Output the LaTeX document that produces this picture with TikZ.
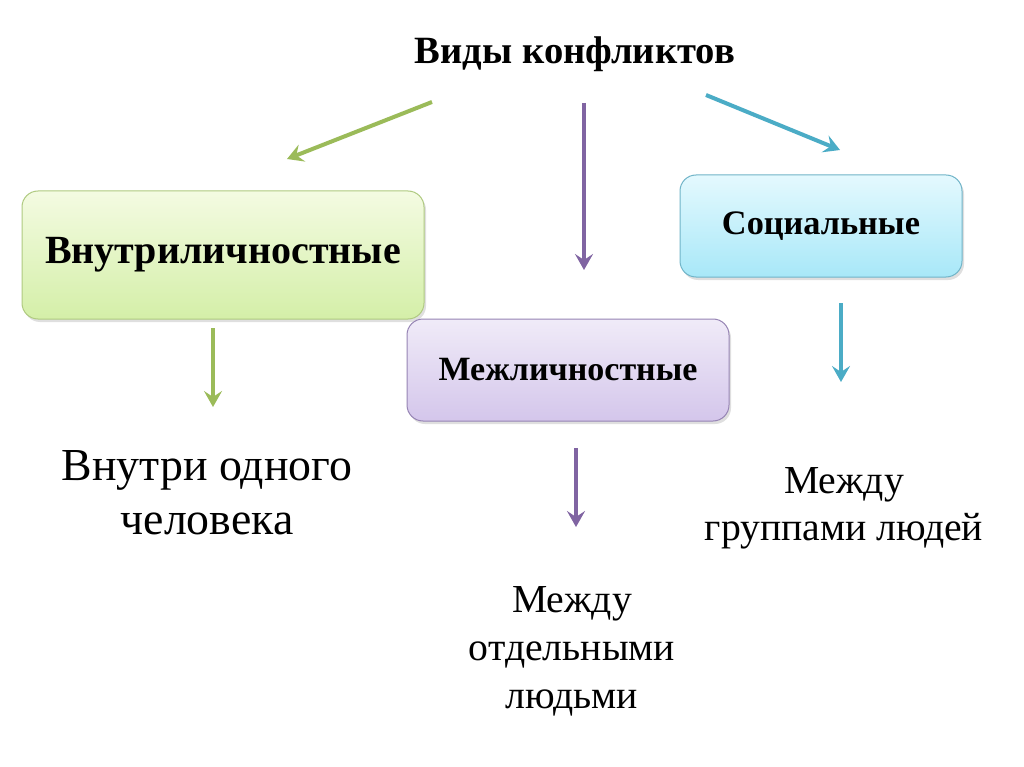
\documentclass[tikz,border=0pt]{standalone}
\usepackage{fontspec}
\setmainfont{Liberation Serif}
\usetikzlibrary{arrows.meta,shadows}
\definecolor{gArrow}{RGB}{155,187,89}
\definecolor{pArrow}{RGB}{128,100,162}
\definecolor{bArrow}{RGB}{75,172,198}
\definecolor{gTop}{RGB}{244,251,226}
\definecolor{gBot}{RGB}{212,239,168}
\definecolor{gLine}{RGB}{175,202,128}
\definecolor{pTop}{RGB}{240,235,248}
\definecolor{pBot}{RGB}{212,198,235}
\definecolor{pLine}{RGB}{150,132,180}
\definecolor{bTop}{RGB}{228,249,254}
\definecolor{bBot}{RGB}{168,232,248}
\definecolor{bLine}{RGB}{112,180,200}
\tikzset{
  box/.style={rounded corners=16pt, line width=1pt, inner sep=0pt,
    drop shadow={opacity=0.25, shadow xshift=2pt, shadow yshift=-3pt}},
  conn/.style={line width=4pt, -{Stealth[length=16pt,width=18pt,inset=6pt]}},
  lbl/.style={inner sep=0pt, align=center, anchor=north}
}
\begin{document}
\begin{tikzpicture}[x=1pt,y=-1pt]
\useasboundingbox[fill=white] (0,0) rectangle (1024,767);
% title
\node[inner sep=0pt, anchor=base, font=\fontsize{38.6}{44}\selectfont\bfseries] (title) at (575,64) {Виды конфликтов};
% boxes
\node[box, draw=gLine, top color=gTop, bottom color=gBot, minimum width=402pt, minimum height=128pt,
      font=\fontsize{40}{46}\selectfont\bfseries] (intra) at (223,255) {Внутриличностные};
\node[box, draw=pLine, top color=pTop, bottom color=pBot, minimum width=322pt, minimum height=102pt,
      font=\fontsize{34}{40}\selectfont\bfseries] (inter) at (568,370) {Межличностные};
\node[box, draw=bLine, top color=bTop, bottom color=bBot, minimum width=282pt, minimum height=102pt,
      font=\fontsize{34.3}{40}\selectfont\bfseries] (soc) at (821,226) {Социальные};
% descriptions
\node[lbl, font=\fontsize{45.8}{54}\selectfont] (d1) at (207,450) {Внутри одного\\человека};
\node[lbl, font=\fontsize{39.7}{48}\selectfont] (d2) at (572,586) {Между\\отдельными\\людьми};
\node[lbl, font=\fontsize{39.7}{47}\selectfont] (d3) at (844,467) {Между\\группами людей};
% arrow end points
\coordinate (a1s) at (432,102); \coordinate (a1e) at (287,159);
\coordinate (a2s) at (584,103); \coordinate (a2e) at (584,270);
\coordinate (a3s) at (706,95);  \coordinate (a3e) at (840,150);
\coordinate (b1s) at (213,328); \coordinate (b1e) at (213,407);
\coordinate (b2s) at (576,448); \coordinate (b2e) at (576,527);
\coordinate (b3s) at (841,303); \coordinate (b3e) at (841,382);
\draw[conn, gArrow] (a1s) -- (a1e);
\draw[conn, pArrow] (a2s) -- (a2e);
\draw[conn, bArrow] (a3s) -- (a3e);
\draw[conn, gArrow] (b1s) -- (b1e);
\draw[conn, pArrow] (b2s) -- (b2e);
\draw[conn, bArrow] (b3s) -- (b3e);
\end{tikzpicture}
\end{document}
